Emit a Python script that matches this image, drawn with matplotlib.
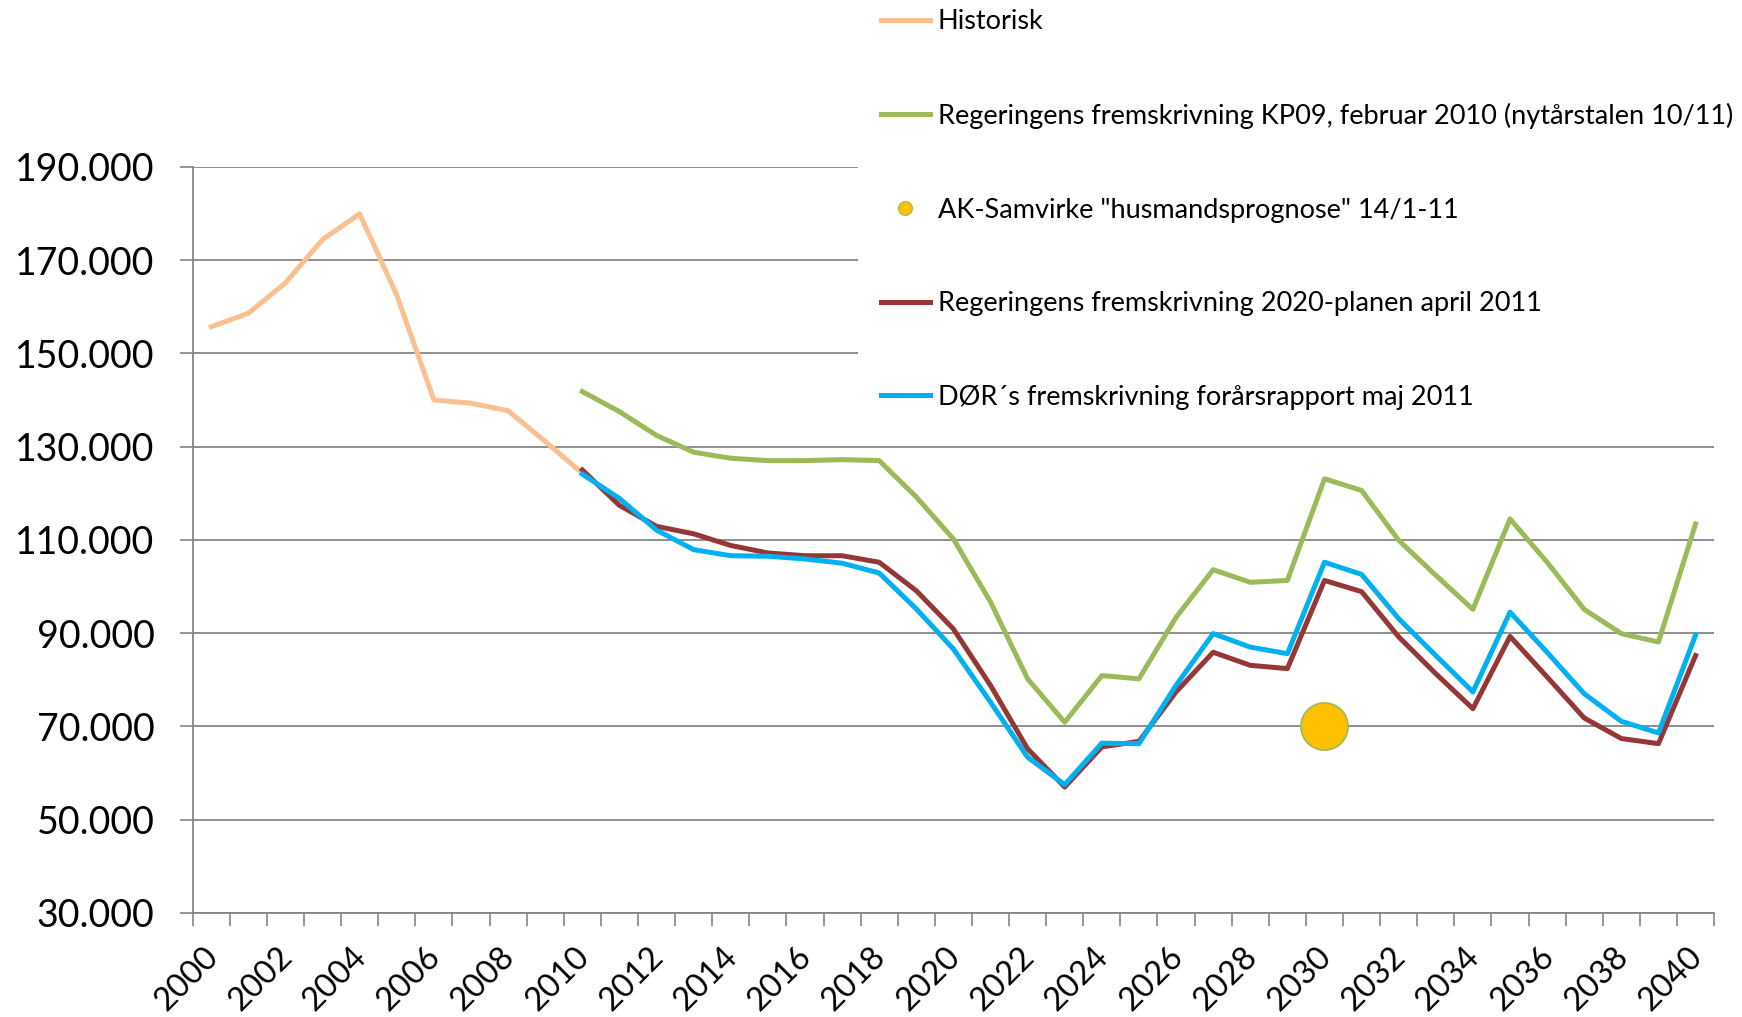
import numpy as np
import matplotlib.pyplot as plt
from matplotlib.lines import Line2D
from matplotlib.ticker import FuncFormatter
from matplotlib.transforms import ScaledTranslation

plt.rcParams['font.family'] = ['Lato', 'DejaVu Sans']

# Data
hist_years = list(range(2000, 2011))
hist = [155700, 158600, 165100, 174400, 179900, 162500, 140000, 139300, 137700, 131100, 124300]

proj_years = list(range(2010, 2041))
kp09 = [141800, 137500, 132400, 128800, 127500, 127000, 127000, 127200, 127000, 119200,
        110200, 96700, 80200, 70900, 80900, 80200, 93400, 103600, 100900, 101300,
        123100, 120600, 109900, 102400, 95100, 114500, 105200, 95100, 89900, 88100, 113400]
plan2020 = [125000, 117400, 112900, 111300, 108800, 107200, 106600, 106600, 105200, 99100,
            90900, 78800, 65200, 57000, 65600, 66800, 77400, 85900, 83100, 82400,
            101300, 98900, 89200, 81300, 73800, 89300, 80600, 71800, 67400, 66300, 85200]
dor = [124100, 118900, 112100, 107900, 106600, 106500, 105900, 105000, 102900, 95200,
       86600, 75200, 63400, 57500, 66400, 66300, 78800, 89900, 87000, 85600,
       105200, 102600, 93100, 85200, 77400, 94500, 85900, 77000, 71100, 68600, 89600]
ak_year = [2030]
ak_value = [70000]

labels = ['Historisk',
          'Regeringens fremskrivning KP09, februar 2010 (nytårstalen 10/11)',
          'AK-Samvirke "husmandsprognose" 14/1-11',
          'Regeringens fremskrivning 2020-planen april 2011',
          'DØR´s fremskrivning forårsrapport maj 2011']

c_hist = '#FAC090'
c_green = '#9BBB59'
c_red = '#953735'
c_blue = '#00B0F0'
c_yellow = '#FFC000'
grid_c = '#868686'

fig = plt.figure(figsize=(17.42, 10.17), dpi=100)
ax = fig.add_axes([0.1106, 0.1023, 0.984 - 0.1106, 0.836 - 0.1023])

lw = 3.6
ax.plot(hist_years, hist, color=c_hist, lw=lw, solid_joinstyle='round', zorder=3)
ax.plot(proj_years, kp09, color=c_green, lw=lw, solid_joinstyle='round', zorder=3)
ax.plot(ak_year, ak_value, 'o', color=c_yellow, markersize=34, markeredgecolor=c_green,
        markeredgewidth=1.2, zorder=4)
ax.plot(proj_years, plan2020, color=c_red, lw=lw, solid_joinstyle='round', zorder=4)
ax.plot(proj_years, dor, color=c_blue, lw=lw, solid_joinstyle='round', zorder=5)

ax.set_ylim(30000, 190000)
ax.set_xlim(1999.5, 2040.5)
ax.set_yticks(range(30000, 190001, 20000))
ax.yaxis.set_major_formatter(FuncFormatter(lambda v, p: f'{v:,.0f}'.replace(',', '.')))
ax.grid(axis='y', color=grid_c, lw=1.3)
ax.set_axisbelow(True)

# year labels every second year, tick marks between every category
ax.set_xticks(range(2000, 2041, 2))
ax.set_xticklabels([str(y) for y in range(2000, 2041, 2)], rotation=45, ha='right',
                   va='center', rotation_mode='anchor')
ax.set_xticks(np.arange(1999.5, 2041, 1), minor=True)
ax.tick_params(axis='x', which='major', length=0, pad=32.5, labelsize=21)
ax.tick_params(axis='x', which='minor', length=9.4, width=1.2, color=grid_c)
ax.tick_params(axis='y', length=9.4, width=1.2, color=grid_c, pad=18, labelsize=27)

for s in ['top', 'right']:
    ax.spines[s].set_visible(False)
for s in ['left', 'bottom']:
    ax.spines[s].set_color(grid_c)
    ax.spines[s].set_linewidth(1.3)

handles = [Line2D([], [], color=c_hist, lw=lw),
           Line2D([], [], color=c_green, lw=lw),
           Line2D([], [], ls='none', marker='o', color=c_yellow, markersize=10,
                  markeredgecolor=c_green, markeredgewidth=0.8),
           Line2D([], [], color=c_red, lw=lw),
           Line2D([], [], color=c_blue, lw=lw)]
leg = fig.legend(handles, labels, loc='upper left', bbox_to_anchor=(858 / 1742, 1.0137),
                 frameon=True, fancybox=False, facecolor='white', edgecolor='none',
                 framealpha=1, fontsize=19.5, borderpad=0.85, labelspacing=2.535,
                 handlelength=1.8, handletextpad=0.3, borderaxespad=0)

# size and place the rotated year labels: "2000" box about 74 px wide, centred near (186, 38)
fig.canvas.draw()
bb = ax.get_xticklabels()[0].get_window_extent()
ax.tick_params(axis='x', which='major', labelsize=21 * 74 / bb.width)
fig.canvas.draw()
bb = ax.get_xticklabels()[0].get_window_extent()
dx = 186.5 - (bb.x0 + bb.x1) / 2
dy = 38 - (bb.y0 + bb.y1) / 2
shift = ScaledTranslation(dx / 100, dy / 100, fig.dpi_scale_trans)
for lab in ax.get_xticklabels():
    lab.set_transform(lab.get_transform() + shift)

fig.savefig('out.png', dpi=100)
